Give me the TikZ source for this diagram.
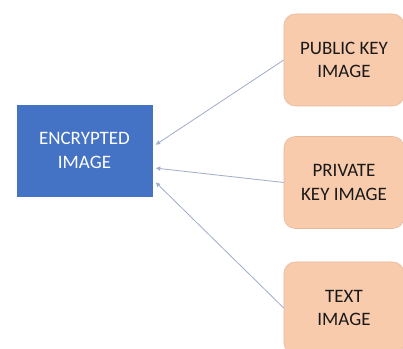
\documentclass[tikz,border=0pt]{standalone}
\usepackage{fontspec}
\setmainfont{Carlito}
\usepackage{xcolor}
\usepackage{tikz}
\usetikzlibrary{arrows.meta,positioning,calc}
\definecolor{encblue}{HTML}{4472C4}
\definecolor{keypeach}{HTML}{F8CBAD}
\definecolor{keyedge}{HTML}{E8B89A}
\definecolor{linkgray}{HTML}{A3AECB}
\tikzset{
  encbox/.style={fill=encblue, draw=encblue, align=center, minimum width=3.375cm, minimum height=2.275cm, inner sep=2pt, font=\fontsize{13.5}{16.5}\selectfont, text=white},
  keybox/.style={fill=keypeach, draw=keyedge, rounded corners=8pt, align=center, minimum width=3cm, minimum height=2.3cm, inner sep=2pt, font=\fontsize{13.5}{16.5}\selectfont, text=black!90},
  keylink/.style={-{Latex[length=1.2mm,width=1.2mm]}, draw=linkgray, line width=0.6pt}
}

\begin{document}
\begin{tikzpicture}
\useasboundingbox (0,0) rectangle (10.075,-8.725);
\node[encbox] (enc) at (2.1125,-3.7625) {ENCRYPTED\\IMAGE};
\node[keybox] (pub) at (8.6,-1.5) {PUBLIC KEY\\IMAGE};
\node[keybox] (priv) at (8.6,-4.5625) {PRIVATE\\KEY IMAGE};
\node[keybox] (txt) at (8.6,-7.7) {TEXT\\IMAGE};
\coordinate (inA) at ($(enc.east)+(0.08,0.14)$);
\coordinate (inB) at ($(enc.east)+(0.08,-0.44)$);
\coordinate (inC) at ($(enc.east)+(0.08,-0.79)$);
\draw[keylink] (pub.west) -- (inA);
\draw[keylink] (priv.west) -- (inB);
\draw[keylink] (txt.west) -- (inC);
\end{tikzpicture}
\end{document}
